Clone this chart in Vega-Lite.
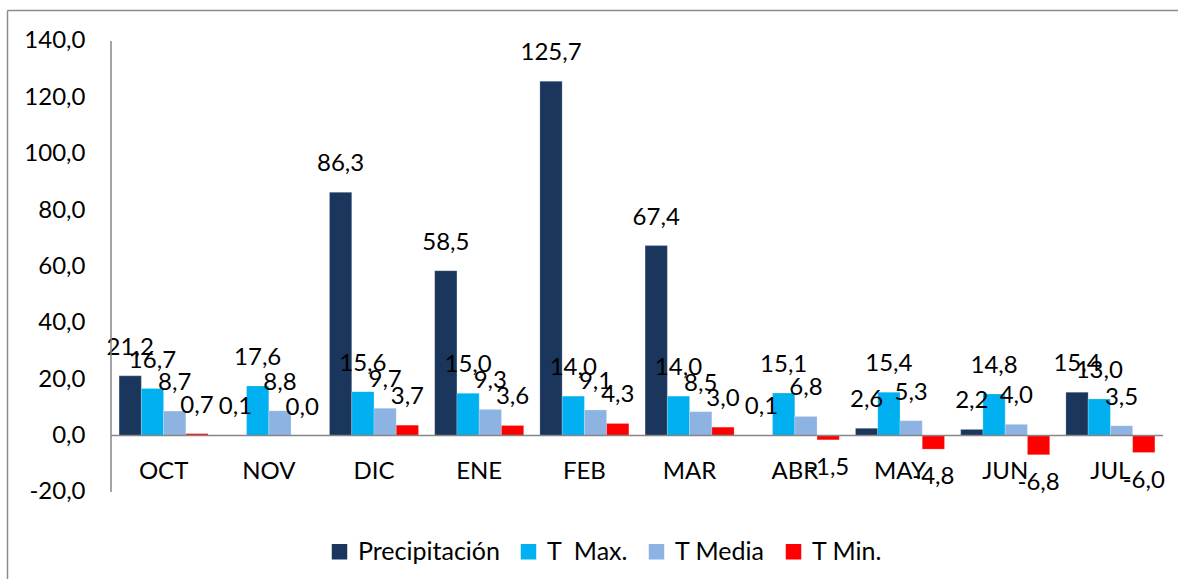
{
  "$schema": "https://vega.github.io/schema/vega-lite/v6.json",
  "width": 1171,
  "height": 569,
  "autosize": {"type": "none"},
  "padding": {"left": 7, "top": 10, "right": 0, "bottom": 0},
  "background": "white",
  "config": {
    "locale": {"number": {"decimal": ",", "thousands": ".", "grouping": [3], "currency": ["", " €"], "minus": "-"}},
    "view": {"stroke": null},
    "font": "Lato"
  },
  "data": {
    "values": [
      {"mes": "OCT", "serie": "Precipitación", "valor": 21.2},
      {"mes": "OCT", "serie": "T\u00a0 Max.", "valor": 16.7},
      {"mes": "OCT", "serie": "T Media", "valor": 8.7},
      {"mes": "OCT", "serie": "T Min.", "valor": 0.7},
      {"mes": "NOV", "serie": "Precipitación", "valor": 0.1},
      {"mes": "NOV", "serie": "T\u00a0 Max.", "valor": 17.6},
      {"mes": "NOV", "serie": "T Media", "valor": 8.8},
      {"mes": "NOV", "serie": "T Min.", "valor": 0.0},
      {"mes": "DIC", "serie": "Precipitación", "valor": 86.3},
      {"mes": "DIC", "serie": "T\u00a0 Max.", "valor": 15.6},
      {"mes": "DIC", "serie": "T Media", "valor": 9.7},
      {"mes": "DIC", "serie": "T Min.", "valor": 3.7},
      {"mes": "ENE", "serie": "Precipitación", "valor": 58.5},
      {"mes": "ENE", "serie": "T\u00a0 Max.", "valor": 15.0},
      {"mes": "ENE", "serie": "T Media", "valor": 9.3},
      {"mes": "ENE", "serie": "T Min.", "valor": 3.6},
      {"mes": "FEB", "serie": "Precipitación", "valor": 125.7},
      {"mes": "FEB", "serie": "T\u00a0 Max.", "valor": 14.0},
      {"mes": "FEB", "serie": "T Media", "valor": 9.1},
      {"mes": "FEB", "serie": "T Min.", "valor": 4.3},
      {"mes": "MAR", "serie": "Precipitación", "valor": 67.4},
      {"mes": "MAR", "serie": "T\u00a0 Max.", "valor": 14.0},
      {"mes": "MAR", "serie": "T Media", "valor": 8.5},
      {"mes": "MAR", "serie": "T Min.", "valor": 3.0},
      {"mes": "ABR", "serie": "Precipitación", "valor": 0.1},
      {"mes": "ABR", "serie": "T\u00a0 Max.", "valor": 15.1},
      {"mes": "ABR", "serie": "T Media", "valor": 6.8},
      {"mes": "ABR", "serie": "T Min.", "valor": -1.5},
      {"mes": "MAY", "serie": "Precipitación", "valor": 2.6},
      {"mes": "MAY", "serie": "T\u00a0 Max.", "valor": 15.4},
      {"mes": "MAY", "serie": "T Media", "valor": 5.3},
      {"mes": "MAY", "serie": "T Min.", "valor": -4.8},
      {"mes": "JUN", "serie": "Precipitación", "valor": 2.2},
      {"mes": "JUN", "serie": "T\u00a0 Max.", "valor": 14.8},
      {"mes": "JUN", "serie": "T Media", "valor": 4.0},
      {"mes": "JUN", "serie": "T Min.", "valor": -6.8},
      {"mes": "JUL", "serie": "Precipitación", "valor": 15.4},
      {"mes": "JUL", "serie": "T\u00a0 Max.", "valor": 13.0},
      {"mes": "JUL", "serie": "T Media", "valor": 3.5},
      {"mes": "JUL", "serie": "T Min.", "valor": -6.0}
    ]
  },
  "resolve": {"axis": {"x": "independent", "y": "independent"}},
  "layer": [
    {
      "mark": {"type": "bar", "stroke": "#ffffff", "strokeOpacity": 0.35, "strokeWidth": 0.6},
      "encoding": {
        "x": {
          "field": "mes", "type": "nominal",
          "sort": ["OCT", "NOV", "DIC", "ENE", "FEB", "MAR", "ABR", "MAY", "JUN", "JUL"],
          "scale": {"paddingInner": 0, "paddingOuter": 0.5656, "align": 0.8739},
          "axis": {"title": null, "orient": "bottom", "offset": -143.4, "domain": false, "ticks": false, "labelAngle": 0, "labelFontSize": 24, "labelColor": "#000000", "labelPadding": 24, "labelFont": "Lato"}
        },
        "xOffset": {"field": "serie", "type": "nominal", "sort": ["Precipitación", "T\u00a0 Max.", "T Media", "T Min."], "scale": {"paddingInner": 0, "paddingOuter": 0.364}},
        "y": {"field": "valor", "type": "quantitative",
          "scale": {"domain": [-50.87, 150.99], "nice": false, "zero": false},
          "axis": {"title": null, "orient": "left", "offset": -104, "values": [-20, 0, 20, 40, 60, 80, 100, 120, 140], "format": ".1f", "grid": false, "ticks": false, "domain": false, "labelFontSize": 24, "labelColor": "#000000", "labelPadding": 26, "labelFont": "Lato"}},
        "color": {"field": "serie", "type": "nominal",
          "scale": {"domain": ["Precipitación", "T\u00a0 Max.", "T Media", "T Min."], "range": ["#1B365D", "#00B0F0", "#8DB3E2", "#FF0000"]},
          "legend": {"title": null, "orient": "none", "legendX": 320, "legendY": 529, "direction": "horizontal", "symbolType": "square", "symbolSize": 240, "symbolStrokeWidth": 0, "labelFontSize": 25, "labelColor": "#000000", "labelFont": "Lato", "columnPadding": 16, "labelOffset": 6}}
      }
    },
    {
      "transform": [{"filter": "datum.valor >= 0"}],
      "mark": {"type": "text", "dy": -28, "baseline": "middle", "fontSize": 24, "color": "#000000"},
      "encoding": {
        "x": {"field": "mes", "type": "nominal", "sort": ["OCT", "NOV", "DIC", "ENE", "FEB", "MAR", "ABR", "MAY", "JUN", "JUL"], "axis": null},
        "xOffset": {"field": "serie", "type": "nominal", "sort": ["Precipitación", "T\u00a0 Max.", "T Media", "T Min."]},
        "y": {"field": "valor", "type": "quantitative", "axis": null},
        "text": {"field": "valor", "type": "quantitative", "format": ".1f"}
      }
    },
    {
      "transform": [{"filter": "datum.valor < 0"}],
      "mark": {"type": "text", "dy": 28, "baseline": "middle", "fontSize": 24, "color": "#000000"},
      "encoding": {
        "x": {"field": "mes", "type": "nominal", "sort": ["OCT", "NOV", "DIC", "ENE", "FEB", "MAR", "ABR", "MAY", "JUN", "JUL"], "axis": null},
        "xOffset": {"field": "serie", "type": "nominal", "sort": ["Precipitación", "T\u00a0 Max.", "T Media", "T Min."]},
        "y": {"field": "valor", "type": "quantitative", "axis": null},
        "text": {"field": "valor", "type": "quantitative", "format": ".1f"}
      }
    },
    {
      "data": {"values": [{"eje": "y"}]},
      "mark": {"type": "rule", "color": "#868686", "strokeWidth": 1.5},
      "encoding": {
        "x": {"datum": "OCT", "type": "nominal", "bandPosition": 0, "axis": {"title": null, "orient": "top", "labels": false, "ticks": false, "domain": true, "domainColor": "#8C8C8C", "domainWidth": 1.5, "grid": false}},
        "y": {"datum": -20, "type": "quantitative", "axis": {"title": null, "orient": "left", "offset": 0, "labels": false, "ticks": false, "domain": true, "domainColor": "#8C8C8C", "domainWidth": 1.5, "grid": false}},
        "y2": {"datum": 140}
      }
    },
    {
      "data": {"values": [{"eje": "x"}]},
      "mark": {"type": "rule", "color": "#868686", "strokeWidth": 1.5},
      "encoding": {
        "x": {"datum": "OCT", "type": "nominal", "bandPosition": 0, "axis": null},
        "x2": {"datum": "JUL", "bandPosition": 1},
        "y": {"datum": 0, "type": "quantitative", "axis": null}
      }
    }
  ]
}
